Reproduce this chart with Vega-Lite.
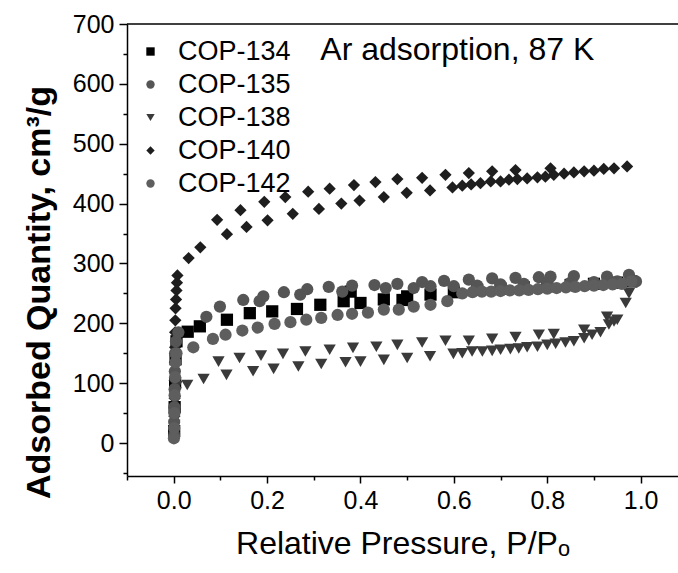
{
  "$schema": "https://vega.github.io/schema/vega-lite/v6.json",
  "width": 551,
  "height": 452,
  "autosize": {"type": "none"},
  "padding": {"left": 127, "top": 24, "right": 0, "bottom": 97},
  "background": "white",
  "config": {"view": {"stroke": null}, "font": "Liberation Sans"},
  "datasets": {
    "iso": [
      {"s": "COP-134", "p": 0.001, "q": 20}, {"s": "COP-134", "p": 0.002, "q": 60}, {"s": "COP-134", "p": 0.003, "q": 100}, {"s": "COP-134", "p": 0.004, "q": 140}, {"s": "COP-134", "p": 0.006, "q": 170}, {"s": "COP-134", "p": 0.03, "q": 186}, {"s": "COP-134", "p": 0.056, "q": 195}, {"s": "COP-134", "p": 0.114, "q": 206}, {"s": "COP-134", "p": 0.163, "q": 217}, {"s": "COP-134", "p": 0.211, "q": 220}, {"s": "COP-134", "p": 0.264, "q": 224}, {"s": "COP-134", "p": 0.314, "q": 231}, {"s": "COP-134", "p": 0.364, "q": 237}, {"s": "COP-134", "p": 0.379, "q": 253}, {"s": "COP-134", "p": 0.4, "q": 234}, {"s": "COP-134", "p": 0.45, "q": 240}, {"s": "COP-134", "p": 0.49, "q": 239}, {"s": "COP-134", "p": 0.5, "q": 245}, {"s": "COP-134", "p": 0.55, "q": 248}, {"s": "COP-134", "p": 0.6, "q": 252}, {"s": "COP-134", "p": 0.65, "q": 256}, {"s": "COP-134", "p": 0.7, "q": 258}, {"s": "COP-134", "p": 0.75, "q": 260}, {"s": "COP-134", "p": 0.8, "q": 262}, {"s": "COP-134", "p": 0.85, "q": 264}, {"s": "COP-134", "p": 0.9, "q": 266}, {"s": "COP-134", "p": 0.95, "q": 268}, {"s": "COP-134", "p": 0.98, "q": 270},

      {"s": "COP-140", "p": 0.001, "q": 15}, {"s": "COP-140", "p": 0.0015, "q": 45}, {"s": "COP-140", "p": 0.002, "q": 75}, {"s": "COP-140", "p": 0.002, "q": 105}, {"s": "COP-140", "p": 0.0025, "q": 135}, {"s": "COP-140", "p": 0.003, "q": 160}, {"s": "COP-140", "p": 0.003, "q": 185}, {"s": "COP-140", "p": 0.0035, "q": 205}, {"s": "COP-140", "p": 0.004, "q": 225}, {"s": "COP-140", "p": 0.005, "q": 240}, {"s": "COP-140", "p": 0.006, "q": 255}, {"s": "COP-140", "p": 0.007, "q": 268}, {"s": "COP-140", "p": 0.008, "q": 280},
      {"s": "COP-140", "p": 0.032, "q": 309}, {"s": "COP-140", "p": 0.057, "q": 327}, {"s": "COP-140", "p": 0.093, "q": 373}, {"s": "COP-140", "p": 0.114, "q": 349}, {"s": "COP-140", "p": 0.143, "q": 389}, {"s": "COP-140", "p": 0.156, "q": 361}, {"s": "COP-140", "p": 0.194, "q": 403}, {"s": "COP-140", "p": 0.201, "q": 372}, {"s": "COP-140", "p": 0.239, "q": 411}, {"s": "COP-140", "p": 0.255, "q": 383}, {"s": "COP-140", "p": 0.288, "q": 420}, {"s": "COP-140", "p": 0.311, "q": 391}, {"s": "COP-140", "p": 0.334, "q": 425}, {"s": "COP-140", "p": 0.359, "q": 400}, {"s": "COP-140", "p": 0.386, "q": 431}, {"s": "COP-140", "p": 0.398, "q": 405}, {"s": "COP-140", "p": 0.432, "q": 436}, {"s": "COP-140", "p": 0.45, "q": 411}, {"s": "COP-140", "p": 0.479, "q": 441}, {"s": "COP-140", "p": 0.499, "q": 418}, {"s": "COP-140", "p": 0.532, "q": 443}, {"s": "COP-140", "p": 0.549, "q": 422}, {"s": "COP-140", "p": 0.582, "q": 448}, {"s": "COP-140", "p": 0.597, "q": 427}, {"s": "COP-140", "p": 0.618, "q": 430}, {"s": "COP-140", "p": 0.632, "q": 451}, {"s": "COP-140", "p": 0.637, "q": 432}, {"s": "COP-140", "p": 0.657, "q": 434}, {"s": "COP-140", "p": 0.679, "q": 437}, {"s": "COP-140", "p": 0.682, "q": 454}, {"s": "COP-140", "p": 0.7, "q": 437}, {"s": "COP-140", "p": 0.718, "q": 440}, {"s": "COP-140", "p": 0.732, "q": 456}, {"s": "COP-140", "p": 0.736, "q": 441}, {"s": "COP-140", "p": 0.757, "q": 442}, {"s": "COP-140", "p": 0.779, "q": 444}, {"s": "COP-140", "p": 0.796, "q": 445}, {"s": "COP-140", "p": 0.807, "q": 459}, {"s": "COP-140", "p": 0.814, "q": 448}, {"s": "COP-140", "p": 0.836, "q": 450}, {"s": "COP-140", "p": 0.857, "q": 452}, {"s": "COP-140", "p": 0.879, "q": 454}, {"s": "COP-140", "p": 0.9, "q": 455}, {"s": "COP-140", "p": 0.921, "q": 458}, {"s": "COP-140", "p": 0.943, "q": 459}, {"s": "COP-140", "p": 0.971, "q": 462},

      {"s": "COP-138", "p": 0.001, "q": 10}, {"s": "COP-138", "p": 0.0015, "q": 30}, {"s": "COP-138", "p": 0.002, "q": 50}, {"s": "COP-138", "p": 0.003, "q": 70}, {"s": "COP-138", "p": 0.004, "q": 85}, {"s": "COP-138", "p": 0.006, "q": 95},
      {"s": "COP-138", "p": 0.029, "q": 97}, {"s": "COP-138", "p": 0.064, "q": 107}, {"s": "COP-138", "p": 0.096, "q": 136}, {"s": "COP-138", "p": 0.113, "q": 114}, {"s": "COP-138", "p": 0.141, "q": 142}, {"s": "COP-138", "p": 0.17, "q": 120}, {"s": "COP-138", "p": 0.187, "q": 146}, {"s": "COP-138", "p": 0.214, "q": 124}, {"s": "COP-138", "p": 0.234, "q": 149}, {"s": "COP-138", "p": 0.267, "q": 128}, {"s": "COP-138", "p": 0.282, "q": 153}, {"s": "COP-138", "p": 0.316, "q": 132}, {"s": "COP-138", "p": 0.334, "q": 156}, {"s": "COP-138", "p": 0.368, "q": 135}, {"s": "COP-138", "p": 0.384, "q": 159}, {"s": "COP-138", "p": 0.4, "q": 136}, {"s": "COP-138", "p": 0.434, "q": 161}, {"s": "COP-138", "p": 0.45, "q": 139}, {"s": "COP-138", "p": 0.479, "q": 164}, {"s": "COP-138", "p": 0.5, "q": 142}, {"s": "COP-138", "p": 0.532, "q": 168}, {"s": "COP-138", "p": 0.549, "q": 145}, {"s": "COP-138", "p": 0.582, "q": 171}, {"s": "COP-138", "p": 0.599, "q": 149}, {"s": "COP-138", "p": 0.618, "q": 150}, {"s": "COP-138", "p": 0.632, "q": 171}, {"s": "COP-138", "p": 0.639, "q": 153}, {"s": "COP-138", "p": 0.661, "q": 153}, {"s": "COP-138", "p": 0.682, "q": 154}, {"s": "COP-138", "p": 0.682, "q": 174}, {"s": "COP-138", "p": 0.7, "q": 156}, {"s": "COP-138", "p": 0.721, "q": 157}, {"s": "COP-138", "p": 0.732, "q": 177}, {"s": "COP-138", "p": 0.739, "q": 158}, {"s": "COP-138", "p": 0.757, "q": 160}, {"s": "COP-138", "p": 0.779, "q": 161}, {"s": "COP-138", "p": 0.782, "q": 181}, {"s": "COP-138", "p": 0.8, "q": 164}, {"s": "COP-138", "p": 0.814, "q": 182}, {"s": "COP-138", "p": 0.818, "q": 166}, {"s": "COP-138", "p": 0.839, "q": 168}, {"s": "COP-138", "p": 0.857, "q": 170}, {"s": "COP-138", "p": 0.879, "q": 175}, {"s": "COP-138", "p": 0.879, "q": 189}, {"s": "COP-138", "p": 0.896, "q": 181}, {"s": "COP-138", "p": 0.914, "q": 185}, {"s": "COP-138", "p": 0.928, "q": 211}, {"s": "COP-138", "p": 0.932, "q": 198}, {"s": "COP-138", "p": 0.943, "q": 203}, {"s": "COP-138", "p": 0.95, "q": 206}, {"s": "COP-138", "p": 0.968, "q": 234}, {"s": "COP-138", "p": 0.975, "q": 250},

      {"s": "COP-135", "p": 0.0008, "q": 12}, {"s": "COP-135", "p": 0.001, "q": 35}, {"s": "COP-135", "p": 0.0015, "q": 60}, {"s": "COP-135", "p": 0.002, "q": 90}, {"s": "COP-135", "p": 0.0025, "q": 120}, {"s": "COP-135", "p": 0.003, "q": 150}, {"s": "COP-135", "p": 0.005, "q": 170}, {"s": "COP-135", "p": 0.01, "q": 185},
      {"s": "COP-135", "p": 0.07, "q": 211}, {"s": "COP-135", "p": 0.099, "q": 228}, {"s": "COP-135", "p": 0.149, "q": 239}, {"s": "COP-135", "p": 0.184, "q": 237}, {"s": "COP-135", "p": 0.192, "q": 245}, {"s": "COP-135", "p": 0.236, "q": 252}, {"s": "COP-135", "p": 0.271, "q": 248}, {"s": "COP-135", "p": 0.286, "q": 257}, {"s": "COP-135", "p": 0.332, "q": 261}, {"s": "COP-135", "p": 0.361, "q": 253}, {"s": "COP-135", "p": 0.382, "q": 263}, {"s": "COP-135", "p": 0.43, "q": 264}, {"s": "COP-135", "p": 0.454, "q": 259}, {"s": "COP-135", "p": 0.479, "q": 266}, {"s": "COP-135", "p": 0.514, "q": 259}, {"s": "COP-135", "p": 0.532, "q": 269}, {"s": "COP-135", "p": 0.55, "q": 262}, {"s": "COP-135", "p": 0.579, "q": 271}, {"s": "COP-135", "p": 0.6, "q": 262}, {"s": "COP-135", "p": 0.632, "q": 273}, {"s": "COP-135", "p": 0.65, "q": 263}, {"s": "COP-135", "p": 0.682, "q": 275}, {"s": "COP-135", "p": 0.7, "q": 265}, {"s": "COP-135", "p": 0.732, "q": 276}, {"s": "COP-135", "p": 0.75, "q": 266}, {"s": "COP-135", "p": 0.782, "q": 277}, {"s": "COP-135", "p": 0.8, "q": 267}, {"s": "COP-135", "p": 0.807, "q": 278}, {"s": "COP-135", "p": 0.85, "q": 268}, {"s": "COP-135", "p": 0.857, "q": 279}, {"s": "COP-135", "p": 0.9, "q": 269}, {"s": "COP-135", "p": 0.928, "q": 278}, {"s": "COP-135", "p": 0.95, "q": 270}, {"s": "COP-135", "p": 0.975, "q": 281}, {"s": "COP-135", "p": 0.99, "q": 270},

      {"s": "COP-142", "p": 0.0005, "q": 8}, {"s": "COP-142", "p": 0.001, "q": 25}, {"s": "COP-142", "p": 0.0015, "q": 50}, {"s": "COP-142", "p": 0.002, "q": 80}, {"s": "COP-142", "p": 0.003, "q": 110}, {"s": "COP-142", "p": 0.004, "q": 135}, {"s": "COP-142", "p": 0.006, "q": 150},
      {"s": "COP-142", "p": 0.042, "q": 160}, {"s": "COP-142", "p": 0.084, "q": 174}, {"s": "COP-142", "p": 0.111, "q": 181}, {"s": "COP-142", "p": 0.147, "q": 188}, {"s": "COP-142", "p": 0.18, "q": 193}, {"s": "COP-142", "p": 0.216, "q": 199}, {"s": "COP-142", "p": 0.25, "q": 202}, {"s": "COP-142", "p": 0.284, "q": 206}, {"s": "COP-142", "p": 0.316, "q": 209}, {"s": "COP-142", "p": 0.351, "q": 214}, {"s": "COP-142", "p": 0.382, "q": 216}, {"s": "COP-142", "p": 0.416, "q": 218}, {"s": "COP-142", "p": 0.45, "q": 223}, {"s": "COP-142", "p": 0.482, "q": 223}, {"s": "COP-142", "p": 0.514, "q": 228}, {"s": "COP-142", "p": 0.55, "q": 231}, {"s": "COP-142", "p": 0.586, "q": 237}, {"s": "COP-142", "p": 0.618, "q": 250}, {"s": "COP-142", "p": 0.64, "q": 252}, {"s": "COP-142", "p": 0.66, "q": 253}, {"s": "COP-142", "p": 0.68, "q": 253}, {"s": "COP-142", "p": 0.7, "q": 254}, {"s": "COP-142", "p": 0.72, "q": 255}, {"s": "COP-142", "p": 0.74, "q": 255}, {"s": "COP-142", "p": 0.76, "q": 256}, {"s": "COP-142", "p": 0.78, "q": 257}, {"s": "COP-142", "p": 0.8, "q": 258}, {"s": "COP-142", "p": 0.82, "q": 259}, {"s": "COP-142", "p": 0.84, "q": 260}, {"s": "COP-142", "p": 0.86, "q": 261}, {"s": "COP-142", "p": 0.88, "q": 262}, {"s": "COP-142", "p": 0.9, "q": 263}, {"s": "COP-142", "p": 0.92, "q": 264}, {"s": "COP-142", "p": 0.94, "q": 265}, {"s": "COP-142", "p": 0.96, "q": 266}, {"s": "COP-142", "p": 0.98, "q": 270}
    ],
    "note": [{"t": "Ar adsorption, 87 K", "p": 0.314, "q": 657}],
    "frame": [{"top": 700}]
  },
  "resolve": {"axis": {"x": "independent", "y": "independent"}},
  "layer": [
    {
      "data": {"name": "frame"},
      "mark": {"type": "rule", "color": "black", "strokeWidth": 1.5},
      "encoding": {
        "y": {"field": "top", "type": "quantitative", "axis": {"orient": "left", "title": null, "values": [-50, 50, 150, 250, 350, 450, 550, 650], "labels": false, "domain": false, "grid": false, "tickSize": 4, "tickColor": "black", "tickWidth": 1.5}}
      }
    },
    {
      "data": {"name": "iso"},
      "mark": {"type": "point", "filled": true, "opacity": 1, "strokeWidth": 0, "size": 150},
      "encoding": {
        "x": {
          "field": "p", "type": "quantitative",
          "scale": {"domain": [-0.1, 1.08], "nice": false, "zero": false},
          "axis": {"orient": "bottom", "title": "Relative Pressure, P/Pₒ", "values": [0, 0.2, 0.4, 0.6, 0.8, 1.0], "format": ".1f", "labelFontSize": 25, "titleFontSize": 32, "titleFontWeight": "normal", "tickSize": 7, "labelPadding": 5, "titlePadding": 15, "domainColor": "black", "tickColor": "black", "labelColor": "black", "titleColor": "black", "domainWidth": 1.5, "tickWidth": 1.5, "grid": false, "labelFlush": false}
        },
        "y": {
          "field": "q", "type": "quantitative",
          "scale": {"domain": [-55, 700], "nice": false, "zero": false},
          "axis": {"orient": "left", "title": "Adsorbed Quantity, cm³/g", "values": [0, 100, 200, 300, 400, 500, 600, 700], "labelFontSize": 25, "titleFontSize": 34, "titleFontWeight": "bold", "titleY": 268, "tickSize": 8, "labelPadding": 5, "titlePadding": 16, "domainColor": "black", "tickColor": "black", "labelColor": "black", "titleColor": "black", "domainWidth": 1.5, "tickWidth": 1.5, "grid": false, "labelFlush": false}
        },
        "shape": {
          "field": "s", "type": "nominal",
          "scale": {"domain": ["COP-134", "COP-135", "COP-138", "COP-140", "COP-142"], "range": ["square", "circle", "triangle-down", "diamond", "circle"]},
          "legend": {"title": null, "orient": "none", "legendX": 10, "legendY": 14, "labelFontSize": 27, "labelFont": "Liberation Sans", "labelColor": "black", "symbolSize": 70, "rowPadding": 5, "labelOffset": 14, "padding": 0, "symbolStrokeWidth": 0}
        },
        "color": {
          "field": "s", "type": "nominal",
          "scale": {"domain": ["COP-134", "COP-135", "COP-138", "COP-140", "COP-142"], "range": ["#000000", "#555555", "#3a3a3a", "#1e1e1e", "#5e5e5e"]},
          "legend": {"title": null, "orient": "none", "legendX": 10, "legendY": 14, "labelFontSize": 27, "labelFont": "Liberation Sans", "labelColor": "black", "symbolSize": 70, "rowPadding": 5, "labelOffset": 14, "padding": 0, "symbolStrokeWidth": 0}
        }
      }
    },
    {
      "data": {"name": "note"},
      "mark": {"type": "text", "align": "left", "baseline": "middle", "fontSize": 32, "font": "Liberation Sans", "color": "black"},
      "encoding": {
        "x": {"field": "p", "type": "quantitative", "axis": {"orient": "bottom", "title": null, "values": [-0.1, 0.1, 0.3, 0.5, 0.7, 0.9], "labels": false, "domain": false, "grid": false, "tickSize": 4, "tickColor": "black", "tickWidth": 1.5}},
        "y": {"field": "q", "type": "quantitative", "axis": null},
        "text": {"field": "t"}
      }
    }
  ]
}
